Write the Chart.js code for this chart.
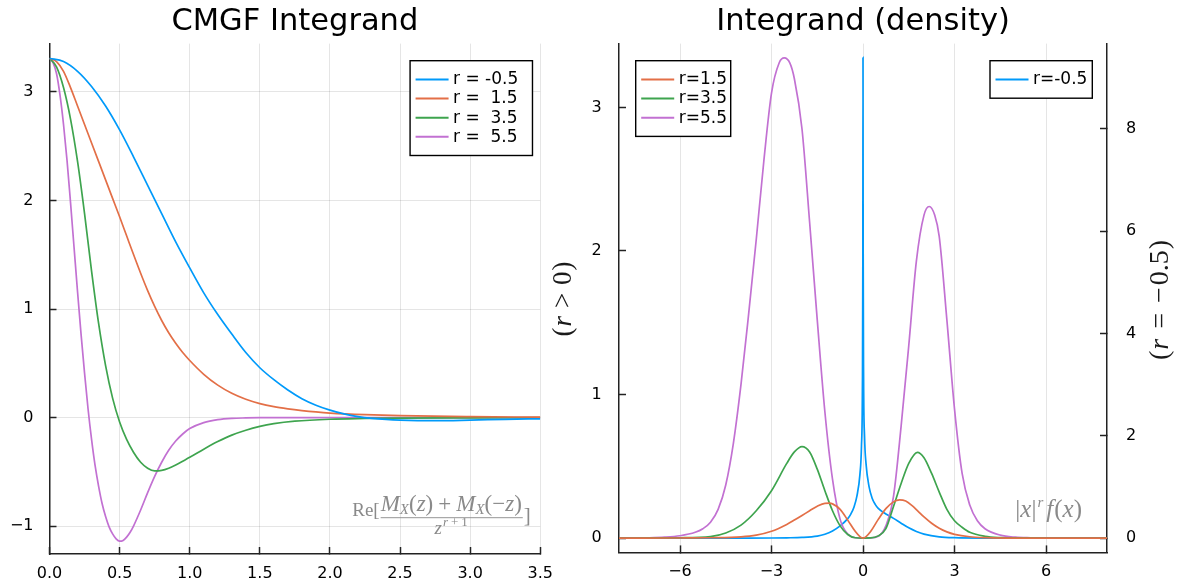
<!DOCTYPE html>
<html><head><meta charset="utf-8">
<script src="https://cdn.jsdelivr.net/npm/chart.js@4.4.1/dist/chart.umd.min.js"></script>
<style>
html,body{margin:0;padding:0;background:#fff;}
#wrap{position:relative;width:1177px;height:588px;overflow:hidden;background:#fff;}
#c1{position:absolute;left:0;top:0;}
#c2{position:absolute;left:540px;top:0;}
</style></head><body>
<div id="wrap"><canvas id="c1" width="570" height="588"></canvas><canvas id="c2" width="637" height="588"></canvas></div>
<script>
// ---------- LEFT PANEL DATA: CMGF integrand ----------
const cmgfLabels = ['r = -0.5', 'r =  1.5', 'r =  3.5', 'r =  5.5'];
const cmgfX_m05 = [0,0.1,0.2,0.3,0.4,0.5,0.6,0.7,0.8,0.9,1.0,1.1,1.2,1.3,1.4,1.5,1.6,1.7,1.8,1.9,2.0,2.1,2.2,2.3,2.4,2.5,2.75,3.0,3.25,3.5];
const cmgfY_m05 = [3.31,3.28,3.19,3.05,2.87,2.65,2.40,2.14,1.88,1.62,1.38,1.15,0.95,0.77,0.60,0.46,0.35,0.255,0.175,0.115,0.07,0.035,0.01,-0.006,-0.016,-0.022,-0.027,-0.022,-0.015,-0.01];
const cmgfX_15 = [0,0.05,0.1,0.15,0.2,0.25,0.3,0.35,0.4,0.45,0.5,0.55,0.6,0.65,0.7,0.75,0.8,0.85,0.9,0.95,1.0,1.1,1.2,1.3,1.4,1.5,1.6,1.7,1.8,1.9,2.0,2.25,2.5,3.0,3.5];
const cmgfY_15 = [3.31,3.28,3.19,3.04,2.87,2.70,2.53,2.36,2.19,2.02,1.85,1.675,1.50,1.33,1.17,1.025,0.895,0.782,0.685,0.60,0.527,0.40,0.30,0.225,0.17,0.13,0.102,0.082,0.066,0.053,0.043,0.028,0.019,0.01,0.005];
const cmgfX_35 = [0,0.05,0.1,0.15,0.2,0.25,0.3,0.35,0.4,0.45,0.5,0.55,0.6,0.65,0.7,0.75,0.8,0.85,0.9,0.95,1.0,1.1,1.2,1.3,1.4,1.5,1.6,1.75,2.0,2.25,2.5,3.0,3.5];
const cmgfY_35 = [3.31,3.23,3.04,2.75,2.36,1.88,1.35,0.87,0.48,0.18,-0.04,-0.2,-0.32,-0.41,-0.465,-0.49,-0.485,-0.465,-0.435,-0.40,-0.365,-0.29,-0.22,-0.16,-0.115,-0.08,-0.055,-0.032,-0.014,-0.007,-0.003,-0.001,0];
const cmgfX_55 = [0,0.025,0.05,0.075,0.1,0.125,0.15,0.175,0.2,0.225,0.25,0.275,0.3,0.325,0.35,0.375,0.4,0.425,0.45,0.475,0.5,0.525,0.55,0.575,0.6,0.65,0.7,0.75,0.8,0.85,0.9,0.95,1.0,1.1,1.2,1.3,1.4,1.5,2.0,2.5,3.0,3.5];
const cmgfY_55 = [3.31,3.27,3.17,2.97,2.70,2.37,1.98,1.57,1.16,0.77,0.41,0.08,-0.2,-0.44,-0.63,-0.79,-0.91,-1.005,-1.07,-1.115,-1.137,-1.13,-1.1,-1.055,-0.995,-0.85,-0.69,-0.54,-0.41,-0.3,-0.215,-0.15,-0.1,-0.045,-0.018,-0.006,-0.002,0,0,0,0,0];
const cmgfXTicks = [0,0.5,1,1.5,2,2.5,3,3.5];
const cmgfXTickLabels = ['0.0','0.5','1.0','1.5','2.0','2.5','3.0','3.5'];
const cmgfYTicks = [-1,0,1,2,3];
const cmgfYTickLabels = ['\u22121','0','1','2','3'];

// ---------- RIGHT PANEL DATA: |x|^r f(x) ----------
const densLabels = ['r=1.5', 'r=3.5', 'r=5.5', 'r=-0.5'];
const densX_15 = [-8,-6,-5,-4,-3.5,-3,-2.5,-2.25,-2,-1.75,-1.5,-1.25,-1.1,-1,-0.75,-0.5,-0.25,-0.1,0,0.1,0.25,0.5,0.75,1,1.2,1.4,1.6,1.8,2,2.25,2.5,2.75,3,3.5,4,5,8];
const densY_15 = [0,0.0005,0.002,0.008,0.02,0.047,0.095,0.125,0.157,0.19,0.222,0.242,0.243,0.238,0.2,0.125,0.045,0.01,0,0.01,0.045,0.13,0.205,0.252,0.266,0.258,0.228,0.188,0.147,0.103,0.068,0.043,0.026,0.009,0.003,0,0];
const densX_35 = [-8,-6,-5,-4.5,-4,-3.5,-3,-2.5,-2.25,-2,-1.75,-1.5,-1.25,-1,-0.75,-0.5,-0.25,0,0.25,0.5,0.75,1,1.25,1.5,1.78,2,2.25,2.5,2.75,3,3.25,3.5,4,4.5,5,6,8];
const densY_35 = [0,0.002,0.01,0.035,0.09,0.19,0.33,0.52,0.6,0.637,0.6,0.48,0.33,0.19,0.085,0.025,0.002,0,0.001,0.015,0.065,0.22,0.38,0.52,0.597,0.56,0.45,0.32,0.2,0.12,0.075,0.04,0.012,0.003,0.001,0,0];
const densX_55 = [-8,-7,-6.5,-6,-5.5,-5.25,-5,-4.75,-4.5,-4.25,-4,-3.75,-3.5,-3.25,-3,-2.75,-2.58,-2.4,-2.25,-2,-1.75,-1.5,-1.25,-1,-0.75,-0.5,-0.25,0,0.25,0.5,0.75,1,1.25,1.5,1.75,2,2.17,2.35,2.5,2.75,3,3.25,3.5,3.75,4,4.5,5,5.5,6,7,8];
const densY_55 = [0,0.002,0.006,0.016,0.04,0.065,0.11,0.2,0.37,0.66,1.07,1.56,2.08,2.63,3.1,3.31,3.345,3.31,3.2,2.85,2.2,1.52,0.88,0.41,0.13,0.028,0.002,0,0.0003,0.012,0.085,0.29,0.78,1.34,1.93,2.25,2.31,2.25,2.1,1.52,0.9,0.45,0.23,0.12,0.065,0.02,0.006,0.002,0,0,0];
const densX_m05 = [-8,-4,-3,-2.5,-2,-1.5,-1.25,-1,-0.75,-0.5,-0.4,-0.3,-0.2,-0.1,-0.05,-0.02,-0.005,0,0.005,0.02,0.05,0.1,0.2,0.3,0.4,0.5,0.75,1,1.25,1.5,1.75,2,2.5,3,4,8];
const densY_m05 = [0,0.0005,0.002,0.005,0.012,0.038,0.075,0.14,0.24,0.38,0.47,0.6,0.82,1.25,1.8,2.9,5.5,9.4,5.8,3.1,2.0,1.45,1.0,0.78,0.66,0.58,0.47,0.385,0.29,0.2,0.13,0.078,0.024,0.007,0.001,0];
const densXTicks = [-6,-3,0,3,6];
const densXTickLabels = ['\u22126','\u22123','0','3','6'];
const densYTicks = [0,1,2,3];
const densYTickLabels = ['0','1','2','3'];
const densY2Ticks = [0,2,4,6,8];
const densY2TickLabels = ['0','2','4','6','8'];

// ---------- styling ----------
const COL = {blue:'#009AFA', orange:'#E36F47', green:'#3EA44E', purple:'#C271D2'};
const SANS = "'DejaVu Sans', sans-serif";
const SERIF = "'Liberation Serif', 'DejaVu Serif', serif";
const AXIS = '#222';
const GRID = 'rgba(0,0,0,0.1)';

function pts(xs, ys){ return xs.map((x,i)=>({x:x, y:ys[i]})); }
function ds(label, xs, ys, color, axis){
  const d = {label:label, data:pts(xs,ys), borderColor:color, backgroundColor:color,
    borderWidth:1.7, pointRadius:0, fill:false, cubicInterpolationMode:'monotone'};
  if (axis) d.yAxisID = axis;
  return d;
}
function fixedTicks(vals){ return function(s){ s.ticks = vals.map(v=>({value:v})); }; }
function labeler(vals, labels){ return function(v){ const i = vals.indexOf(v); return i>=0 ? labels[i] : ''; }; }
function axisCommon(extra){
  return Object.assign({ type:'linear', border:{display:true, color:AXIS, width:1.5} }, extra);
}

// ---------- rich math text helper ----------
function fontOf(s){ return (s.i?'italic ':'') + s.size + 'px ' + SERIF; }
function richWidth(ctx, segs){ let w=0; segs.forEach(s=>{ ctx.font=fontOf(s); w += ctx.measureText(s.t).width + (s.sp||0); }); return w; }
function drawRich(ctx, x, y, segs){ segs.forEach(s=>{ ctx.font=fontOf(s); ctx.fillText(s.t, x, y+(s.dy||0)); x += ctx.measureText(s.t).width + (s.sp||0); }); return x; }

// ---------- box legend plugin ----------
const boxLegend = {
  id:'boxLegend',
  afterDatasetsDraw(chart, args, opts){
    const ctx = chart.ctx, ca = chart.chartArea;
    (opts.groups||[]).forEach(g=>{
      const rowH = 19.1, padY = 9.2;
      const h = g.items.length*rowH + 2*padY;
      const left = g.anchor==='left' ? ca.left + g.dx : ca.right - g.dx - g.w;
      const top = ca.top + g.dy;
      ctx.save();
      ctx.fillStyle = '#fff';
      ctx.fillRect(left, top, g.w, h);
      ctx.strokeStyle = '#000'; ctx.lineWidth = 1.4;
      ctx.strokeRect(left, top, g.w, h);
      g.items.forEach((di, k)=>{
        const d = chart.data.datasets[di];
        const cy = top + padY + rowH*(k+0.5);
        ctx.strokeStyle = d.borderColor; ctx.lineWidth = 2;
        ctx.beginPath(); ctx.moveTo(left+5.5, cy); ctx.lineTo(left+38.5, cy); ctx.stroke();
        ctx.fillStyle = '#000'; ctx.font = '17px ' + SANS;
        ctx.textBaseline = 'middle'; ctx.textAlign = 'left';
        ctx.fillText(d.label, left+43, cy+0.5);
      });
      ctx.restore();
    });
  }
};

// ---------- math annotations plugin ----------
const mathText = {
  id:'mathText',
  afterDraw(chart, args, opts){
    const ctx = chart.ctx, ca = chart.chartArea;
    ctx.save();
    ctx.textBaseline = 'alphabetic'; ctx.textAlign = 'left';
    (opts.items||[]).forEach(it=>{
      if (it.kind==='cmgf') {
        ctx.fillStyle = '#8a8a8a'; ctx.strokeStyle = '#8a8a8a';
        const reSegs = [{t:'Re[', size:19, sp:1}];
        const numSegs = [{t:'M',i:1,size:23},{t:'X',i:1,size:15,dy:3},{t:'(',size:23},{t:'z',i:1,size:23},{t:')',size:23,sp:5},{t:'+',size:23,sp:5},
                         {t:'M',i:1,size:23},{t:'X',i:1,size:15,dy:3},{t:'(',size:23},{t:'\u2212',size:23},{t:'z',i:1,size:23},{t:')',size:23}];
        const denSegs = [{t:'z',i:1,size:19,sp:1},{t:'r',i:1,size:13,dy:-8,sp:3},{t:'+',size:13,dy:-8,sp:3},{t:'1',size:13,dy:-8}];
        const brSegs = [{t:']', size:21}];
        const wRe = richWidth(ctx, reSegs), wNum = richWidth(ctx, numSegs), wDen = richWidth(ctx, denSegs), wBr = richWidth(ctx, brSegs);
        const right = ca.right - it.dx;
        const xNum = right - wBr - 2 - wNum;
        const xRe = xNum - wRe;
        const yLine = ca.bottom - it.dyLine;
        drawRich(ctx, xRe, yLine - 1.5, reSegs);
        drawRich(ctx, xNum, yLine - 7, numSegs);
        ctx.lineWidth = 0.9; ctx.beginPath(); ctx.moveTo(xNum, yLine); ctx.lineTo(xNum + wNum + 1, yLine); ctx.stroke();
        drawRich(ctx, xNum + (wNum - wDen)/2, yLine + 16, denSegs);
        drawRich(ctx, right - wBr, yLine + 4, brSegs);
      } else if (it.kind==='dens') {
        ctx.fillStyle = '#8a8a8a';
        const segs = [{t:'|',size:25},{t:'x',i:1,size:25},{t:'|',size:25,sp:1},{t:'r',i:1,size:15,dy:-10,sp:3},
                      {t:'f',i:1,size:25,sp:1},{t:'(',size:25},{t:'x',i:1,size:25},{t:')',size:25}];
        const w = richWidth(ctx, segs);
        drawRich(ctx, ca.right - it.dx - w, ca.bottom - it.dy, segs);
      } else if (it.kind==='ytitle') {
        ctx.fillStyle = '#1a1a1a';
        const w = richWidth(ctx, it.segs);
        const cx = it.side==='left' ? ca.left - it.off : ca.right + it.off;
        const cy = (ca.top + ca.bottom)/2 + (it.dyc||0);
        ctx.translate(cx, cy); ctx.rotate(-Math.PI/2);
        ctx.textBaseline = 'middle';
        drawRich(ctx, -w/2, 0, it.segs);
        ctx.setTransform(1,0,0,1,0,0);
        ctx.textBaseline = 'alphabetic';
      }
    });
    ctx.restore();
  }
};

const tickFont = {family:SANS, size:16};
function titleOpts(text){
  return {display:true, text:text, fullSize:false, color:'#000',
    font:{family:SANS, size:30.5, weight:'normal', lineHeight:1.2}, padding:{top:3.5, bottom:3.5}};
}

// ---------- LEFT CHART ----------
new Chart(document.getElementById('c1'), {
  type:'line',
  data:{datasets:[
    ds(cmgfLabels[0], cmgfX_m05, cmgfY_m05, COL.blue),
    ds(cmgfLabels[1], cmgfX_15, cmgfY_15, COL.orange),
    ds(cmgfLabels[2], cmgfX_35, cmgfY_35, COL.green),
    ds(cmgfLabels[3], cmgfX_55, cmgfY_55, COL.purple)
  ]},
  options:{
    responsive:false, animation:false, events:[],
    layout:{padding:{left:0, right:0, top:0, bottom:0}},
    plugins:{
      legend:{display:false}, tooltip:{enabled:false},
      title:titleOpts('CMGF Integrand'),
      boxLegend:{groups:[{items:[0,1,2,3], anchor:'right', dx:7.8, dy:17.1, w:122.4}]},
      mathText:{items:[{kind:'cmgf', dx:9.5, dyLine:36.3}]}
    },
    scales:{
      x: axisCommon({min:0, max:3.5, afterBuildTicks:fixedTicks(cmgfXTicks),
        ticks:{callback:labeler(cmgfXTicks, cmgfXTickLabels), font:tickFont, color:'#000', padding:17, maxRotation:0, autoSkip:false},
        grid:{color:GRID, lineWidth:1, tickLength:-7, tickColor:AXIS, tickWidth:1.5},
        afterFit:s=>{ s.height = 34; }}),
      y: axisCommon({min:-1.255, max:3.445, afterBuildTicks:fixedTicks(cmgfYTicks),
        ticks:{callback:labeler(cmgfYTicks, cmgfYTickLabels), font:tickFont, color:'#000', padding:23, autoSkip:false},
        grid:{color:GRID, lineWidth:1, tickLength:-7, tickColor:AXIS, tickWidth:1.5},
        afterFit:s=>{ s.width = 49.5; }})
    }
  },
  plugins:[boxLegend, mathText]
});

// ---------- RIGHT CHART ----------
new Chart(document.getElementById('c2'), {
  type:'line',
  data:{datasets:[
    ds(densLabels[0], densX_15, densY_15, COL.orange, 'y'),
    ds(densLabels[1], densX_35, densY_35, COL.green, 'y'),
    ds(densLabels[2], densX_55, densY_55, COL.purple, 'y'),
    ds(densLabels[3], densX_m05, densY_m05, COL.blue, 'y2')
  ]},
  options:{
    responsive:false, animation:false, events:[],
    layout:{padding:{left:0, right:0, top:0, bottom:0}},
    plugins:{
      legend:{display:false}, tooltip:{enabled:false},
      title:titleOpts('Integrand (density)'),
      boxLegend:{groups:[
        {items:[0,1,2], anchor:'left', dx:16.7, dy:17.1, w:95},
        {items:[3], anchor:'right', dx:14.7, dy:17.1, w:102.3}
      ]},
      mathText:{items:[
        {kind:'dens', dx:25, dy:35},
        {kind:'ytitle', side:'left', off:55, dyc:1, segs:[{t:'(',size:27,sp:1},{t:'r',i:1,size:27,sp:8},{t:'>',size:27,sp:8},{t:'0',size:27,sp:1},{t:')',size:27}]},
        {kind:'ytitle', side:'right', off:54, dyc:2, segs:[{t:'(',size:28,sp:1},{t:'r',i:1,size:28,sp:10},{t:'=',size:28,sp:10},{t:'\u2212',size:28,sp:2},{t:'0.5',size:28,sp:1},{t:')',size:28}]}
      ]}
    },
    scales:{
      x: axisCommon({min:-8, max:8, afterBuildTicks:fixedTicks(densXTicks),
        ticks:{callback:labeler(densXTicks, densXTickLabels), font:tickFont, color:'#000', padding:17, maxRotation:0, autoSkip:false},
        grid:{color:GRID, lineWidth:1, tickLength:-7, tickColor:AXIS, tickWidth:1.5},
        afterFit:s=>{ s.height = 34; }}),
      y: axisCommon({position:'left', min:-0.1, max:3.445, afterBuildTicks:fixedTicks(densYTicks),
        ticks:{callback:labeler(densYTicks, densYTickLabels), font:tickFont, color:'#000', padding:24.3, autoSkip:false},
        grid:{drawOnChartArea:false, tickLength:-7, tickColor:AXIS, tickWidth:1.5},
        afterFit:s=>{ s.width = 79; }}),
      y2: axisCommon({position:'right', min:-0.28, max:9.67, afterBuildTicks:fixedTicks(densY2Ticks),
        ticks:{callback:labeler(densY2Ticks, densY2TickLabels), font:tickFont, color:'#000', padding:26, autoSkip:false},
        grid:{drawOnChartArea:false, tickLength:-7, tickColor:AXIS, tickWidth:1.5},
        afterFit:s=>{ s.width = 70; }})
    }
  },
  plugins:[boxLegend, mathText]
});
</script>
</body></html>
